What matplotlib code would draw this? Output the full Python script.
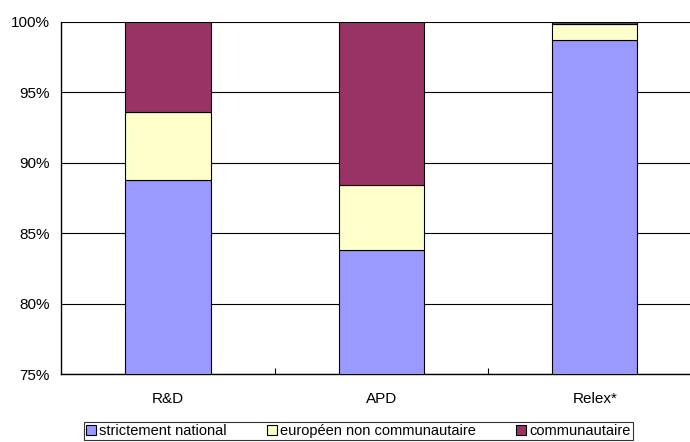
import matplotlib.pyplot as plt
from matplotlib.ticker import FuncFormatter

plt.rcParams['font.family'] = ['Liberation Sans', 'DejaVu Sans']

categories = ["R&D", "APD", "Relex*"]
national = [88.8, 83.8, 98.7]
europeen = [4.8, 4.6, 1.15]
communautaire = [6.4, 11.6, 0.15]
series_labels = ["strictement national", "européen non communautaire", "communautaire"]
colors = ["#9999FF", "#FFFFCC", "#993366"]

fig = plt.figure(figsize=(6.9, 4.42), dpi=100)
# the plot area runs past the right edge of the picture, as in the reference
ax = fig.add_axes([0.0891, 0.1532, 0.9275, 0.7977])

x = list(range(len(categories)))
bottom = [0.0] * len(categories)
for vals, lab, col in zip([national, europeen, communautaire], series_labels, colors):
    ax.bar(x, vals, width=0.4, bottom=bottom, color=col, edgecolor="black",
           linewidth=0.8, label=lab, zorder=3)
    bottom = [b + v for b, v in zip(bottom, vals)]

ax.set_ylim(75, 100)
ax.set_xlim(-0.5, len(categories) - 0.5)
ax.set_yticks([75, 80, 85, 90, 95, 100])
ax.yaxis.set_major_formatter(FuncFormatter(lambda v, p: f"{v:.0f}%"))
ax.grid(axis="y", color="black", linewidth=0.8, zorder=0)
ax.tick_params(axis="y", length=0, pad=8.5, labelsize=11)

ax.set_xticks(x)
ax.set_xticklabels(categories, fontsize=11)
ax.tick_params(axis="x", which="major", length=0, pad=13)
ax.set_xticks([i + 0.5 for i in x[:-1]], minor=True)
ax.tick_params(axis="x", which="minor", direction="in", length=4, width=0.8)

for s in ["top", "right"]:
    ax.spines[s].set_visible(False)
for s in ["left", "bottom"]:
    ax.spines[s].set_linewidth(1.0)
    ax.spines[s].set_color("black")

leg = fig.legend(loc="center", bbox_to_anchor=(0.519, 0.0245), ncol=3,
                 fontsize=10.5, frameon=True, fancybox=False, edgecolor="black",
                 handlelength=0.7, handleheight=0.7, handletextpad=0.2,
                 columnspacing=2.75, borderpad=0.15, borderaxespad=0)
leg.get_frame().set_linewidth(0.8)
for h in leg.legend_handles:
    h.set_edgecolor("black")
    h.set_linewidth(0.8)

fig.savefig("out.png", dpi=100)
